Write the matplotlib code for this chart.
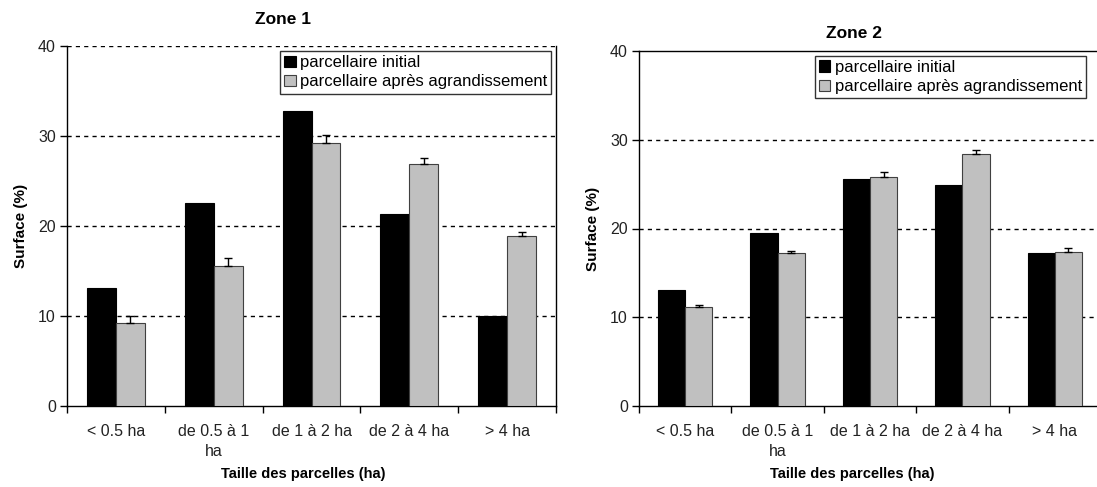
import numpy as np
import matplotlib
matplotlib.use("Agg")
import matplotlib.pyplot as plt

plt.rcParams['font.family'] = ['Liberation Sans', 'DejaVu Sans']

categories = ["< 0.5 ha", "de 0.5 à 1\nha", "de 1 à 2 ha", "de 2 à 4 ha", "> 4 ha"]
series_names = ["parcellaire initial", "parcellaire après agrandissement"]

zone1_initial = [13.1, 22.6, 32.8, 21.3, 10.0]
zone1_after = [9.2, 15.6, 29.2, 26.9, 18.9]
zone1_err = [0.8, 0.8, 0.9, 0.7, 0.45]

zone2_initial = [13.1, 19.5, 25.6, 24.9, 17.2]
zone2_after = [11.2, 17.2, 25.8, 28.4, 17.4]
zone2_err = [0.15, 0.3, 0.6, 0.4, 0.35]

W, H = 1097, 487
fig = plt.figure(figsize=(W / 100, H / 100), dpi=100)


def px(x0, y0, x1, y1):
    # pixel box -> figure fraction
    return [x0 / W, 1 - y1 / H, (x1 - x0) / W, (y1 - y0) / H]


def draw_zone(ax, initial, after, err, top_dashed, legend_right):
    x = np.arange(len(categories))
    w = 0.295
    ax.bar(x - w / 2, initial, w, color="black", edgecolor="black",
           linewidth=0.8, label=series_names[0], zorder=3)
    ax.bar(x + w / 2, after, w, color="#c0c0c0", edgecolor="#404040",
           linewidth=0.8, label=series_names[1], zorder=3)
    ax.errorbar(x + w / 2, after, yerr=[np.zeros(len(err)), err], fmt="none",
                ecolor="black", elinewidth=1, capsize=3, capthick=1, zorder=4)

    ax.set_xlim(-0.5, len(categories) - 0.5)
    ax.set_ylim(0, 40)
    ax.set_yticks([0, 10, 20, 30, 40])
    ax.set_yticklabels(["0", "10", "20", "30", "40"], fontsize=11.5, color="#222222")
    ax.set_xticks(np.arange(len(categories) + 1) - 0.5)
    ax.set_xticklabels([])
    ax.set_xticks(x, minor=True)
    ax.set_xticklabels(categories, minor=True, fontsize=11.5, color="#222222",
                       linespacing=1.4)
    ax.tick_params(axis="x", which="minor", length=0, pad=13)
    ax.tick_params(axis="x", which="major", length=5, direction="out", width=1)
    ax.tick_params(axis="y", length=5, direction="out", width=1, pad=3)

    grid_vals = [10, 20, 30, 40] if top_dashed else [10, 20, 30]
    for g in grid_vals:
        ax.axhline(g, color="black", linestyle=(0, (3, 3)), linewidth=1, zorder=1)

    for s in ax.spines.values():
        s.set_color("black")
        s.set_linewidth(1)
    if top_dashed:
        ax.spines["top"].set_visible(False)

    ax.set_ylabel("Surface (%)", fontsize=11, fontweight="bold", labelpad=7)
    leg = ax.legend(loc="upper right", bbox_to_anchor=(legend_right, 0.986),
                    fontsize=12, frameon=True, fancybox=False, borderpad=0.25,
                    handlelength=0.7, handleheight=0.7, handletextpad=0.25,
                    labelspacing=0.25, borderaxespad=0)
    leg.get_frame().set_edgecolor("black")
    leg.get_frame().set_linewidth(1)


ax1 = fig.add_axes(px(67, 46, 556, 406))
draw_zone(ax1, zone1_initial, zone1_after, zone1_err, True, 0.99)

ax2 = fig.add_axes(px(639, 51, 1101, 406))
draw_zone(ax2, zone2_initial, zone2_after, zone2_err, False, 0.9675)

fig.text(283 / W, 1 - 20 / H, "Zone 1", ha="center", va="center",
         fontsize=12.5, fontweight="bold")
fig.text(854 / W, 1 - 33 / H, "Zone 2", ha="center", va="center",
         fontsize=12.5, fontweight="bold")
fig.text(303 / W, 1 - 474 / H, "Taille des parcelles (ha)", ha="center",
         va="center", fontsize=10.5, fontweight="bold")
fig.text(852 / W, 1 - 474 / H, "Taille des parcelles (ha)", ha="center",
         va="center", fontsize=10.5, fontweight="bold")

fig.savefig("out.png", dpi=100)
